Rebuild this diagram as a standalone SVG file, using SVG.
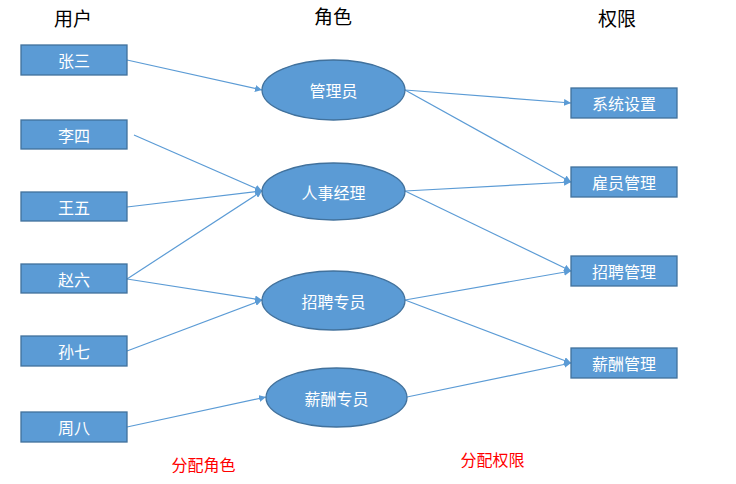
<svg xmlns="http://www.w3.org/2000/svg" width="736" height="484" viewBox="0 0 736 484">
<style>
.box{fill:#5B9BD5;stroke:#41719C;stroke-width:1.3}
.lbl{fill:#fff;font-family:"Noto Sans CJK SC","Liberation Sans",sans-serif;font-size:16px;text-anchor:middle;dominant-baseline:central}
.hdr{fill:#000;font-family:"Noto Sans CJK SC","Liberation Sans",sans-serif;font-size:19px;text-anchor:middle;dominant-baseline:central}
.red{fill:#FF0000;font-family:"Noto Sans CJK SC","Liberation Sans",sans-serif;font-size:16px;text-anchor:middle;dominant-baseline:central}
.ln{stroke:#5B9BD5;stroke-width:1.2;fill:none;marker-end:url(#ah)}
</style>
<defs>
<marker id="ah" viewBox="0 0 10 10" refX="10" refY="5" markerWidth="7" markerHeight="7" markerUnits="userSpaceOnUse" orient="auto">
<path d="M0,0 L10,5 L0,10 z" fill="#5B9BD5"/>
</marker>
</defs>
<rect width="736" height="484" fill="#fff"/>
<text class="hdr" x="73" y="17">用户</text>
<text class="hdr" x="333" y="15">角色</text>
<text class="hdr" x="617" y="17">权限</text>
<g id="connectors">
<line class="ln" x1="127" y1="60" x2="262" y2="90"/>
<line class="ln" x1="134" y1="135" x2="262" y2="191"/>
<line class="ln" x1="127" y1="207" x2="262" y2="191"/>
<line class="ln" x1="127" y1="279" x2="262" y2="191"/>
<line class="ln" x1="127" y1="279" x2="262" y2="300"/>
<line class="ln" x1="127" y1="351" x2="262" y2="300"/>
<line class="ln" x1="127" y1="427" x2="266" y2="397"/>
<line class="ln" x1="405" y1="90" x2="571" y2="103"/>
<line class="ln" x1="405" y1="90" x2="571" y2="182"/>
<line class="ln" x1="405" y1="191" x2="571" y2="182"/>
<line class="ln" x1="405" y1="191" x2="571" y2="271"/>
<line class="ln" x1="405" y1="300" x2="571" y2="271"/>
<line class="ln" x1="405" y1="300" x2="571" y2="363"/>
<line class="ln" x1="407" y1="397" x2="571" y2="363"/>
</g>
<g id="u1"><rect class="box" x="21" y="45" width="106" height="30"/><text class="lbl" x="74" y="60">张三</text></g>
<g id="u2"><rect class="box" x="21" y="120" width="106" height="29"/><text class="lbl" x="74" y="134.5">李四</text></g>
<g id="u3"><rect class="box" x="21" y="192" width="106" height="29"/><text class="lbl" x="74" y="206.5">王五</text></g>
<g id="u4"><rect class="box" x="21" y="264" width="106" height="29"/><text class="lbl" x="74" y="278.5">赵六</text></g>
<g id="u5"><rect class="box" x="21" y="336" width="106" height="30"/><text class="lbl" x="74" y="351">孙七</text></g>
<g id="u6"><rect class="box" x="21" y="412" width="106" height="30"/><text class="lbl" x="74" y="427">周八</text></g>
<g id="r1"><ellipse class="box" cx="333.5" cy="90" rx="71.5" ry="30"/><text class="lbl" x="333.5" y="90">管理员</text></g>
<g id="r2"><ellipse class="box" cx="333.5" cy="191.5" rx="71.5" ry="28.5"/><text class="lbl" x="333.5" y="191.5">人事经理</text></g>
<g id="r3"><ellipse class="box" cx="333.5" cy="300.5" rx="71.5" ry="29.5"/><text class="lbl" x="333.5" y="300.5">招聘专员</text></g>
<g id="r4"><ellipse class="box" cx="336.5" cy="397.5" rx="70.5" ry="29.5"/><text class="lbl" x="336.5" y="397.5">薪酬专员</text></g>
<g id="p1"><rect class="box" x="571" y="88" width="106" height="30"/><text class="lbl" x="624" y="103">系统设置</text></g>
<g id="p2"><rect class="box" x="571" y="167" width="106" height="30"/><text class="lbl" x="624" y="182">雇员管理</text></g>
<g id="p3"><rect class="box" x="571" y="256" width="106" height="30"/><text class="lbl" x="624" y="271">招聘管理</text></g>
<g id="p4"><rect class="box" x="571" y="348" width="106" height="30"/><text class="lbl" x="624" y="363">薪酬管理</text></g>
<text class="red" x="203.5" y="464">分配角色</text>
<text class="red" x="492.5" y="459">分配权限</text>
</svg>
